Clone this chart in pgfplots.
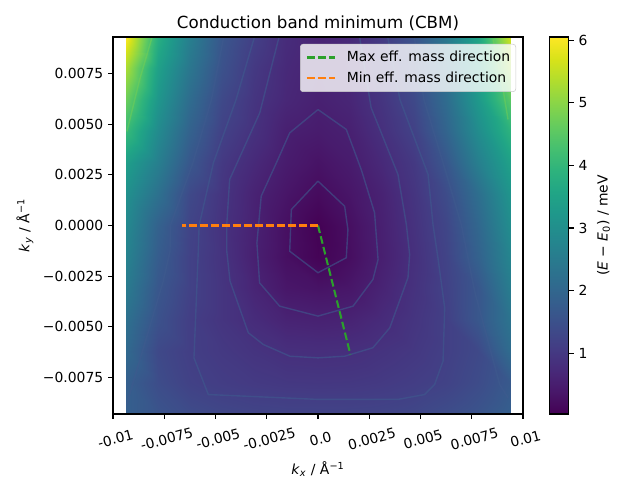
\documentclass[border=0pt]{standalone}
\usepackage{pgfplots}
\pgfplotsset{compat=1.18}
\usepackage{fontspec}
\setmainfont{DejaVu Sans}
\definecolor{cgreen}{HTML}{2CA02C}
\definecolor{corange}{HTML}{FF7F0E}
\definecolor{cline}{HTML}{3E5A8E}
\definecolor{cline2}{HTML}{7AD151}
% energy grid, kx and ky in units of 1e-3 1/Angstrom, E in meV
\pgfplotstableread{
x y z
-9.37 -9.3 1.83
-7.81 -9.3 1.58
-6.25 -9.3 1.40
-4.69 -9.3 1.30
-3.12 -9.3 1.25
-1.56 -9.3 1.23
0 -9.3 1.23
1.56 -9.3 1.23
3.12 -9.3 1.25
4.69 -9.3 1.30
6.25 -9.3 1.42
7.81 -9.3 1.58
9.37 -9.3 1.83
-9.37 -7.75 1.83
-7.81 -7.75 1.42
-6.25 -7.75 1.19
-4.69 -7.75 1.10
-3.12 -7.75 1.04
-1.56 -7.75 1.00
0 -7.75 0.99
1.56 -7.75 1.00
3.12 -7.75 1.04
4.69 -7.75 1.11
6.25 -7.75 1.21
7.81 -7.75 1.40
9.37 -7.75 1.70
-9.37 -6.2 2.07
-7.81 -6.2 1.34
-6.25 -6.2 1.13
-4.69 -6.2 1.02
-3.12 -6.2 0.92
-1.56 -6.2 0.83
0 -6.2 0.81
1.56 -6.2 0.83
3.12 -6.2 0.91
4.69 -6.2 1.00
6.25 -6.2 1.15
7.81 -6.2 1.34
9.37 -6.2 2.13
-9.37 -4.65 2.25
-7.81 -4.65 1.52
-6.25 -4.65 1.12
-4.69 -4.65 0.94
-3.12 -4.65 0.77
-1.56 -4.65 0.61
0 -4.65 0.58
1.56 -4.65 0.61
3.12 -4.65 0.75
4.69 -4.65 0.94
6.25 -4.65 1.15
7.81 -4.65 1.64
9.37 -4.65 2.32
-9.37 -3.1 2.50
-7.81 -3.1 1.64
-6.25 -3.1 1.19
-4.69 -3.1 0.94
-3.12 -3.1 0.64
-1.56 -3.1 0.38
0 -3.1 0.32
1.56 -3.1 0.38
3.12 -3.1 0.62
4.69 -3.1 0.89
6.25 -3.1 1.19
7.81 -3.1 1.64
9.37 -3.1 2.55
-9.37 -1.55 2.70
-7.81 -1.55 1.77
-6.25 -1.55 1.19
-4.69 -1.55 0.91
-3.12 -1.55 0.55
-1.56 -1.55 0.26
0 -1.55 0.07
1.56 -1.55 0.24
3.12 -1.55 0.54
4.69 -1.55 0.85
6.25 -1.55 1.23
7.81 -1.55 1.89
9.37 -1.55 2.75
-9.37 0 2.85
-7.81 0 1.89
-6.25 0 1.23
-4.69 0 0.89
-3.12 0 0.58
-1.56 0 0.27
0 0 0.04
1.56 0 0.26
3.12 0 0.56
4.69 0 0.89
6.25 0 1.28
7.81 0 2.01
9.37 0 2.95
-9.37 1.55 3.05
-7.81 1.55 2.25
-6.25 1.55 1.34
-4.69 1.55 0.94
-3.12 1.55 0.60
-1.56 1.55 0.36
0 1.55 0.19
1.56 1.55 0.36
3.12 1.55 0.60
4.69 1.55 0.94
6.25 1.55 1.40
7.81 1.55 2.19
9.37 1.55 3.15
-9.37 3.1 3.40
-7.81 3.1 2.60
-6.25 3.1 1.64
-4.69 3.1 1.02
-3.12 3.1 0.72
-1.56 3.1 0.47
0 3.1 0.32
1.56 3.1 0.47
3.12 3.1 0.72
4.69 3.1 1.02
6.25 3.1 1.64
7.81 3.1 2.60
9.37 3.1 3.45
-9.37 4.65 4.10
-7.81 4.65 2.90
-6.25 4.65 1.89
-4.69 4.65 1.19
-3.12 4.65 0.87
-1.56 4.65 0.55
0 4.65 0.47
1.56 4.65 0.56
3.12 4.65 0.85
4.69 4.65 1.19
6.25 4.65 1.95
7.81 4.65 2.95
9.37 4.65 3.90
-9.37 6.2 4.70
-7.81 6.2 3.20
-6.25 6.2 2.13
-4.69 6.2 1.34
-3.12 6.2 0.94
-1.56 6.2 0.68
0 6.2 0.56
1.56 6.2 0.66
3.12 6.2 0.94
4.69 6.2 1.34
6.25 6.2 2.13
7.81 6.2 3.25
9.37 6.2 4.50
-9.37 7.75 5.30
-7.81 7.75 3.45
-6.25 7.75 2.38
-4.69 7.75 1.52
-3.12 7.75 1.02
-1.56 7.75 0.72
0 7.75 0.60
1.56 7.75 0.70
3.12 7.75 1.00
4.69 7.75 1.46
6.25 7.75 2.25
7.81 7.75 3.50
9.37 7.75 5.20
-9.37 9.3 6.05
-7.81 9.3 3.80
-6.25 9.3 2.60
-4.69 9.3 1.64
-3.12 9.3 1.15
-1.56 9.3 0.77
0 9.3 0.61
1.56 9.3 0.72
3.12 9.3 1.06
4.69 9.3 1.58
6.25 9.3 2.44
7.81 9.3 3.55
9.37 9.3 5.60
}\energygrid
\begin{document}
\begin{tikzpicture}
\useasboundingbox (0,0) rectangle (460.8pt,345.6pt);
\begin{axis}[
  at={(81.36pt,47.52pt)}, anchor=south west,
  scale only axis, width=295.2pt, height=271.44pt,
  xmin=-10, xmax=10, ymin=-9.3, ymax=9.3,
  axis on top,
  tick align=outside, tick pos=left,
  major tick length=3.5pt,
  tick style={black, line width=0.8pt},
  axis line style={line width=0.8pt},
  xtick={-10,-7.5,-5,-2.5,0,2.5,5,7.5,10},
  xticklabels={-0.01,-0.0075,-0.005,-0.0025,0.0,0.0025,0.005,0.0075,0.01},
  ytick={-7.5,-5,-2.5,0,2.5,5,7.5},
  yticklabels={−0.0075,−0.0050,−0.0025,0.0000,0.0025,0.0050,0.0075},
  xticklabel style={rotate=15, anchor=center, yshift=-14.5pt, xshift=-2pt, font=\fontsize{10}{12}\selectfont},
  yticklabel style={font=\fontsize{10}{12}\selectfont},
  xlabel={\textit{k}\textsubscript{\textit{x}} / Å\textsuperscript{−1}},
  ylabel={\textit{k}\textsubscript{\textit{y}} / Å\textsuperscript{−1}},
  xlabel style={font=\fontsize{10}{12}\selectfont},
  ylabel style={font=\fontsize{10}{12}\selectfont},
  title={Conduction band minimum (CBM)},
  title style={font=\fontsize{12}{14}\selectfont, at={(0.5,1)}, anchor=south, yshift=-5pt},
  colormap/viridis,
  point meta min=0.03, point meta max=6.05,
  colorbar,
  colorbar style={
    at={(parent axis.north east)}, anchor=north west, xshift=10.8pt,
    width=13.68pt,
    ytick={1,2,3,4,5,6},
    xtick=\empty,
    ytick pos=right,
    tick align=outside,
    major tick length=3.5pt,
    yticklabel style={font=\fontsize{10}{12}\selectfont},
    /pgf/number format/assume math mode=true,
    ylabel={(\textit{E} − \textit{E}\textsubscript{0}) / meV},
    ylabel style={font=\fontsize{10}{12}\selectfont},
    axis line style={line width=0.8pt},
  },
  legend style={at={(1,1)}, anchor=north east, xshift=-5pt, yshift=-5pt,
    draw=black!20, fill=white, fill opacity=0.8, text opacity=1,
    rounded corners=2pt, font=\fontsize{10}{12}\selectfont,
    row sep=2pt, inner xsep=4pt, inner ysep=3pt,
    nodes={inner xsep=0pt}},
  legend cell align=left,
  legend image code/.code={\draw[#1] (0pt,0pt) -- (20pt,0pt); \path (28pt,0pt);},
]
\addplot[surf, shader=interp, mesh/cols=13, point meta=explicit, forget plot]
  table[x=x, y=y, meta=z] {\energygrid};
% contour lines
\addplot[cline, opacity=0.6, line width=1pt, forget plot] coordinates {
(0,2.19) (-1.30,0.79) (-1.38,-1.27) (0,-2.33) (1.38,-1.59) (1.46,-0.20) (1.30,0.95) (0,2.19)};
\addplot[cline, opacity=0.6, line width=1pt, forget plot] coordinates {
(0,5.72) (-1.38,4.57) (-2.03,3.09) (-2.77,1.45) (-2.98,-0.86) (-2.85,-2.83) (-1.87,-3.98) (0,-4.47) (1.71,-3.98) (2.68,-2.66) (2.93,-1.68) (2.76,0.63) (2.11,2.76) (1.38,4.74) (0,5.72)};
\addplot[cline, opacity=0.6, line width=1pt, forget plot] coordinates {
(-1.9,9.3) (-2.84,5.56) (-4.31,2.27) (-4.45,0.05) (-4.45,-1.27) (-4.29,-2.75) (-3.40,-5.29) (-2.67,-5.87) (-1.37,-6.45) (0,-6.53) (1.30,-6.45) (2.68,-6.03) (3.50,-5.05) (4.39,-2.57) (4.47,-1.43) (4.31,0.05) (3.90,2.52) (2.59,5.82) (2.03,9.3)};
\addplot[cline, opacity=0.6, line width=1pt, forget plot] coordinates {
(-3.1,9.3) (-4.0,6.2) (-5.1,3.1) (-5.8,0) (-5.84,-1.27) (-6.05,-6.53) (-5.35,-8.34) (0,-8.58) (3.90,-8.58) (5.20,-8.34) (5.69,-7.84) (6.10,-6.69) (6.18,-4.06) (5.85,-1.59) (5.61,0.05) (5.37,2.52) (4.0,6.2) (3.4,9.3)};
\addplot[cline, opacity=0.6, line width=1pt, forget plot] coordinates {
(-4.6,9.3) (-5.2,6.2) (-6.1,3.1) (-7.2,0) (-7.22,-1.27) (-7.55,-2.75) (-9.33,-8.83)};
\addplot[cline, opacity=0.6, line width=1pt, forget plot] coordinates {
(4.7,9.3) (5.17,6.2) (6.1,3.1) (7.0,0) (7.64,-3.24) (8.86,-7.84) (9.27,-8.5)};
\addplot[cline2, opacity=0.45, line width=1pt, forget plot] coordinates {
(-9.32,4.64) (-8.7,7.2) (-8.1,9.27)};
\addplot[cline2, opacity=0.45, line width=1pt, forget plot] coordinates {
(8.54,9.18) (8.95,7.2) (9.27,5.23)};
% effective mass directions
\addplot[cgreen, line width=1.5pt, dash pattern=on 5.55pt off 2.4pt] coordinates {(0,0) (1.58,-6.36)};
\addlegendentry{Max eff. mass direction}
\addplot[corange, line width=1.5pt, dash pattern=on 5.55pt off 2.4pt] coordinates {(0,0) (-6.62,0)};
\addlegendentry{Min eff. mass direction}
\end{axis}
\end{tikzpicture}
\end{document}
